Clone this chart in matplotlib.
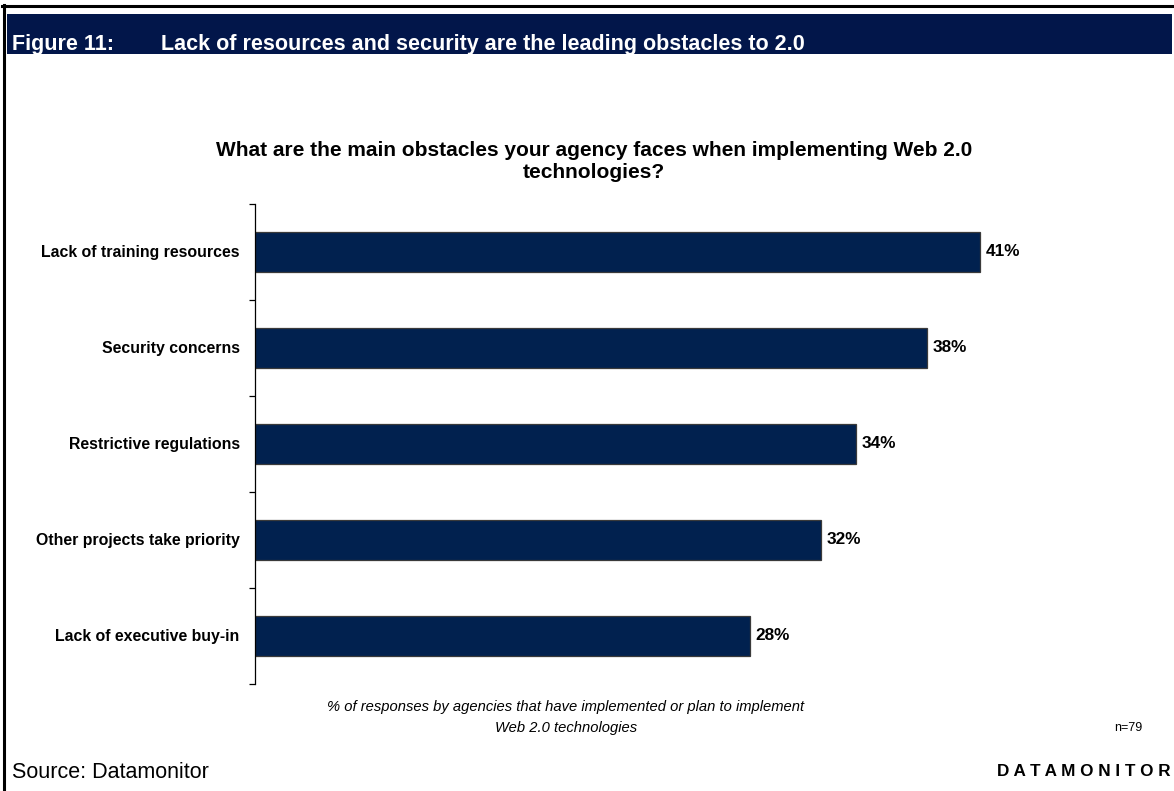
import matplotlib
matplotlib.use("Agg")
import matplotlib.pyplot as plt
from matplotlib.patches import Rectangle
from matplotlib.lines import Line2D

plt.rcParams["font.family"] = ["Liberation Sans", "DejaVu Sans"]

# survey results, top to bottom
obstacles = ["Lack of training resources", "Security concerns", "Restrictive regulations",
             "Other projects take priority", "Lack of executive buy-in"]
shares = [41, 38, 34, 32, 28]

NAVY = "#01214f"
BAND = "#02164a"
W, H = 1174, 791

fig = plt.figure(figsize=(W / 100, H / 100), dpi=100)

def fx(x): return x / W
def fy(y): return 1 - y / H

# page frame (top + left rule) and header band
fig.add_artist(Line2D([fx(2), fx(W)], [fy(6), fy(6)], color="black", lw=2.2))
fig.add_artist(Line2D([fx(4), fx(4)], [fy(5), fy(H)], color="black", lw=2.2))
fig.add_artist(Rectangle((fx(7), fy(54)), fx(1165), 40 / H, color=BAND, lw=0))
fig.text(fx(12), fy(50), "Figure 11:", color="white", fontsize=15.5, fontweight="bold", va="baseline")
fig.text(fx(161), fy(50), "Lack of resources and security are the leading obstacles to 2.0",
         color="white", fontsize=15.5, fontweight="bold", va="baseline")

fig.text(fx(594), fy(150), "What are the main obstacles your agency faces when implementing Web 2.0",
         ha="center", va="center", fontsize=15, fontweight="bold")
fig.text(fx(594), fy(173), "technologies?", ha="center", va="center", fontsize=15, fontweight="bold")

ax = fig.add_axes([fx(255), fy(684), fx(1139 - 255), (684 - 204) / H])
ypos = list(range(len(obstacles)))
ax.barh(ypos, shares, height=0.41, color=NAVY, edgecolor="#3a3a3a", linewidth=0.9)
for y, v in zip(ypos, shares):
    ax.annotate(f"{v}%", (v, y), xytext=(4, 0), textcoords="offset points",
                va="center", ha="left", fontsize=12.4, fontweight="bold")

ax.set_xlim(0, 50)
ax.set_ylim(len(obstacles) - 0.5, -0.5)
for s in ["top", "right", "bottom"]:
    ax.spines[s].set_visible(False)
ax.spines["left"].set_linewidth(0.9)
ax.set_xticks([])
ax.set_yticks([i - 0.5 for i in range(len(obstacles) + 1)])
ax.set_yticklabels([])
ax.tick_params(axis="y", length=4, width=0.9, direction="out")
for y, name in zip(ypos, obstacles):
    ax.annotate(name, (0, y), xytext=(-11, 0), textcoords="offset points", ha="right", va="center",
                fontsize=11.4, fontweight="bold")

fig.text(fx(566), fy(707), "% of responses by agencies that have implemented or plan to implement",
         ha="center", va="center", fontsize=10.6, style="italic")
fig.text(fx(566), fy(728), "Web 2.0 technologies", ha="center", va="center", fontsize=10.6, style="italic")
fig.text(fx(1128), fy(728), "n=79", ha="center", va="center", fontsize=9)

fig.text(fx(12), fy(772), "Source: Datamonitor", ha="left", va="center", fontsize=15.5)
fig.text(fx(1171), fy(772), "D A T A M O N I T O R", ha="right", va="center", fontsize=12.3, fontweight="bold")

fig.savefig("out.png", dpi=100)
